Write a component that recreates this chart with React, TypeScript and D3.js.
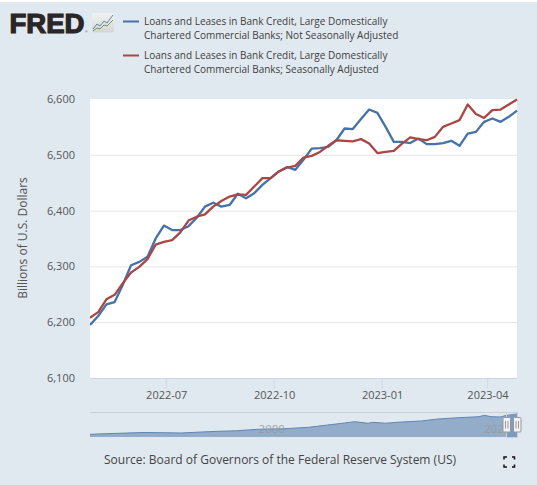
import React from "react";
import * as d3 from "d3";

const W = 537;
const H = 485;

const notSeasonallyAdjusted = [6196, 6212, 6233, 6237, 6268, 6303, 6309, 6318, 6351, 6374, 6366, 6366, 6373, 6388, 6408, 6415, 6408, 6411, 6431, 6423, 6432, 6447, 6459, 6471, 6479, 6474, 6492, 6512, 6513, 6515, 6527, 6548, 6547, 6565, 6582, 6576, 6551, 6524, 6524, 6522, 6530, 6520, 6520, 6522, 6526, 6517, 6539, 6542, 6560, 6566, 6560, 6569, 6580];
const seasonallyAdjusted = [6209, 6219, 6242, 6250, 6271, 6290, 6300, 6314, 6340, 6345, 6348, 6362, 6383, 6390, 6394, 6408, 6418, 6426, 6430, 6429, 6444, 6459, 6459, 6471, 6478, 6481, 6496, 6499, 6506, 6517, 6527, 6526, 6525, 6529, 6521, 6504, 6506, 6508, 6521, 6532, 6529, 6527, 6533, 6551, 6557, 6563, 6591, 6574, 6567, 6581, 6582, 6591, 6600];

const navYears = [1985.3, 1987.8, 1989.9, 1991.7, 1993.4, 1995.2, 1996.7, 1998.2, 2000.2, 2002.6, 2004.7, 2006.4, 2007.9, 2008.8, 2010, 2010.3, 2011.5, 2013, 2014.7, 2016.2, 2018, 2019.8, 2020.3, 2020.9, 2021.7, 2022.3, 2023.2];
const navValues = [775, 1062, 1290, 1234, 1148, 1435, 1636, 1780, 2210, 2382, 2784, 3444, 4018, 4391, 3932, 4219, 3961, 4305, 4592, 5166, 5539, 5826, 6228, 5826, 5740, 6228, 6600];

const yTicks = [6100, 6200, 6300, 6400, 6500, 6600];
const xTickLabels = ["2022-07", "2022-10", "2023-01", "2023-04"];
const navTickYears = [2000, 2020];
const legendLabels = [
  ["Loans and Leases in Bank Credit, Large Domestically", "Chartered Commercial Banks; Not Seasonally Adjusted"],
  ["Loans and Leases in Bank Credit, Large Domestically", "Chartered Commercial Banks; Seasonally Adjusted"],
];
const seriesColors = ["#4572a7", "#aa4643"];
const FONT = "'Open Sans', sans-serif";

const dates = d3.utcWednesday.range(new Date(Date.UTC(2022, 3, 27)), new Date(Date.UTC(2023, 3, 27)));
const x = d3.scaleUtc().domain([dates[0], dates[dates.length - 1]]).range([90, 517]);
const y = d3.scaleLinear().domain([6100, 6600]).range([378.5, 99.5]);
const navX = d3.scaleLinear().domain([1985.3, 2023.2]).range([90, 517]);
const navY = d3.scaleLinear().domain([0, 6600]).range([437, 414]);
const parseMonth = d3.utcParse("%Y-%m");

const line = d3.line<number>().x((_, i) => x(dates[i])).y((d) => y(d));
const navIdx = navYears.map((_, i) => i);
const navArea = d3.area<number>().x((i) => navX(navYears[i])).y0(navY(0)).y1((i) => navY(navValues[i]));
const navLine = d3.line<number>().x((i) => navX(navYears[i])).y((i) => navY(navValues[i]));

function Handle({ cx }: { cx: number }) {
  return (
    <g>
      <rect x={cx - 3.5} y={417.5} width={7.5} height={14.5} rx={1} fill="#f2f2f2" stroke="#999" />
      <path d={`M${cx - 1} 421V428.5M${cx + 1.5} 421V428.5`} stroke="#999" strokeWidth={1} />
    </g>
  );
}

export default function App() {
  const selLeft = 506.5;
  const selRight = 517;
  return (
    <svg width={W} height={H} style={{ position: "absolute", left: 0, top: 0, display: "block" }} fontFamily={FONT}>
      <defs>
        <clipPath id="plot"><rect x={90} y={97} width={428} height={282} /></clipPath>
        <clipPath id="sel"><rect x={selLeft} y={410} width={selRight - selLeft} height={30} /></clipPath>
        <linearGradient id="logoBg" x1="0" y1="0" x2="0" y2="1">
          <stop offset="0" stopColor="#f2f2f2" />
          <stop offset="1" stopColor="#d4d6d6" />
        </linearGradient>
      </defs>
      <rect x={0} y={2} width={W} height={H - 2} fill="#e1e9f0" />

      {/* logo */}
      <text x={9.5} y={32.5} fontFamily="'Liberation Sans', Arial, sans-serif" fontWeight={700} fontSize={27} fill="#2a2526" stroke="#2a2526" strokeWidth={1.2} textLength={75} lengthAdjust="spacingAndGlyphs">FRED</text>
      <text x={85} y={33} fontFamily="'Liberation Sans', sans-serif" fontSize={3.5} fill="#555">®</text>
      <rect x={92} y={13} width={22} height={19.5} rx={2} fill="url(#logoBg)" />
      <path d="M93 29L97 24L100 26L104 21L107 23L113 15" fill="none" stroke="#5c86a8" strokeWidth={1} />
      <path d="M93 31L97 28L100 29L104 25L107 26L113 20" fill="none" stroke="#6f9a4c" strokeWidth={1} />

      {/* legend */}
      {legendLabels.map((lines, i) => {
        const top = i === 0 ? 21.5 : 55.5;
        return (
          <g key={i}>
            <line x1={123} x2={139} y1={top} y2={top} stroke={seriesColors[i]} strokeWidth={2} />
            {lines.map((t, j) => (
              <text key={j} x={144} y={top + 3.5 + j * 14} fontSize={10} fill="#3e3e3e">{t}</text>
            ))}
          </g>
        );
      })}

      {/* plot */}
      <rect x={90} y={99} width={427} height={279.5} fill="#fff" />
      {yTicks.slice(1, 5).map((t) => (
        <line key={t} x1={90} x2={517} y1={y(t)} y2={y(t)} stroke="#e6e6e6" strokeWidth={1} />
      ))}
      <line x1={90} x2={517} y1={378.5} y2={378.5} stroke="#ccd6eb" />
      {xTickLabels.map((t) => {
        const px = x(parseMonth(t) as Date);
        return (
          <g key={t}>
            <line x1={px} x2={px} y1={378.5} y2={388.5} stroke="#ccd6eb" />
            <text x={Math.min(px + 0.5, 488)} y={398.5} textAnchor="middle" fontSize={11} fill="#555">{t}</text>
          </g>
        );
      })}
      {yTicks.map((t) => (
        <text key={t} x={75} y={y(t) + 3.5} textAnchor="end" fontSize={11} fill="#555">{d3.format(",")(t)}</text>
      ))}
      <text transform="translate(27 238) rotate(-90)" textAnchor="middle" fontSize={12} fill="#555">Billions of U.S. Dollars</text>

      <g clipPath="url(#plot)" fill="none" strokeWidth={2.3} strokeLinejoin="round">
        <path d={line(notSeasonallyAdjusted) ?? ""} stroke={seriesColors[0]} />
        <path d={line(seasonallyAdjusted) ?? ""} stroke={seriesColors[1]} />
      </g>

      {/* navigator */}
      <path d={navArea(navIdx) ?? ""} fill="#93acca" />
      <path d={navLine(navIdx) ?? ""} fill="none" stroke="#5f86b5" strokeWidth={1} />
      <path d={navArea(navIdx) ?? ""} fill="#7a9bc8" clipPath="url(#sel)" />
      {navTickYears.map((yr) => (
        <text key={yr} x={navX(yr) + 3} y={433} fontSize={11.5} fill="#999" opacity={0.85}>{yr}</text>
      ))}
      <path d={`M90 412.5H${selRight + 0.5}V437.5H${selLeft}V412.5`} fill="none" stroke="#cfcfcf" strokeWidth={1} />
      <Handle cx={selLeft} />
      <Handle cx={selRight} />

      <text x={104} y={464} fontSize={12} fill="#444">Source: Board of Governors of the Federal Reserve System (US)</text>
      <path d="M504 459.5V457H507M512 457H514.5V459.5M504 464.5V467H507M512 467H514.5V464.5" fill="none" stroke="#111" strokeWidth={1.5} />
    </svg>
  );
}
